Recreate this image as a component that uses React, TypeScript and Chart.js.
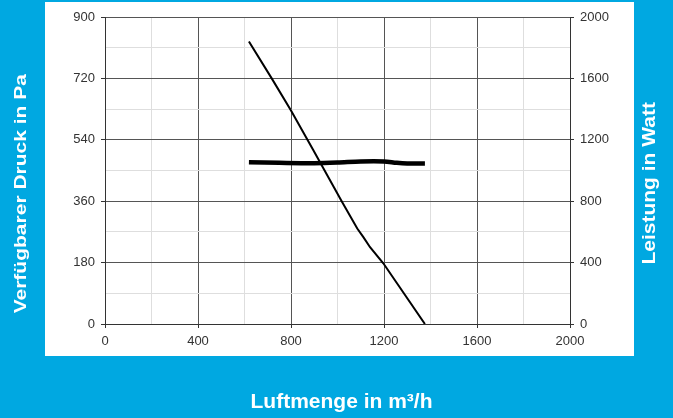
import { useEffect, useRef } from 'react';
import { Chart, registerables } from 'chart.js';

Chart.register(...registerables);

// Pressure curve (left axis, Pa) vs. air flow (m³/h)
const flowPressure = [619, 717, 800, 895, 1018, 1085, 1112, 1140, 1197, 1376];
const pressurePa = [828, 720, 626, 511, 360, 280, 254, 225, 178, 0];

// Power curve (right axis, W) vs. air flow (m³/h)
const flowPower = [619, 750, 900, 1000, 1100, 1200, 1255, 1300, 1376];
const powerW = [1053, 1050, 1048, 1052, 1059, 1059, 1050, 1046, 1046];

// Axis ranges / tick steps
const xRange = [0, 2000];
const xLabelStep = 400;
const leftRange = [0, 900];
const leftLabelStep = 180;
const rightRange = [0, 2000];
const rightLabelStep = 400;

const xTitle = 'Luftmenge in m³/h';
const leftTitle = 'Verfügbarer Druck in Pa';
const rightTitle = 'Leistung in Watt';

const BLUE = '#00a8e1';
const TICK_FONT = { family: '"Liberation Sans", Arial, sans-serif', size: 13 };
const TITLE_FONT = 'bold 21px "Liberation Sans", Arial, sans-serif';

const isMajor = (v: number, step: number) => Math.abs(v % step) < 1e-6;

const framePlugin = {
  id: 'frame',
  beforeDraw(chart: any) {
    const { ctx, width, height } = chart;
    ctx.save();
    ctx.fillStyle = BLUE;
    ctx.fillRect(0, 0, width, height);
    ctx.fillStyle = '#ffffff';
    ctx.fillRect(45, 2, 589, 354);
    ctx.restore();
  },
  afterDraw(chart: any) {
    const { ctx } = chart;
    ctx.save();
    ctx.fillStyle = '#ffffff';
    ctx.font = TITLE_FONT;
    ctx.textAlign = 'center';
    ctx.textBaseline = 'middle';
    // bottom title
    ctx.save();
    ctx.translate(341.5, 402);
    ctx.scale(1.0, 0.96);
    ctx.fillText(xTitle, 0, 0);
    ctx.restore();
    // left title
    ctx.save();
    ctx.translate(21, 193.7);
    ctx.rotate(-Math.PI / 2);
    ctx.scale(1.0, 0.82);
    ctx.fillText(leftTitle, 0, 0);
    ctx.restore();
    // right title
    ctx.save();
    ctx.translate(649.5, 183.3);
    ctx.rotate(-Math.PI / 2);
    ctx.scale(1.0, 0.88);
    ctx.fillText(rightTitle, 0, 0);
    ctx.restore();
    ctx.restore();
  },
};

export default function App() {
  const ref = useRef<HTMLCanvasElement>(null);

  useEffect(() => {
    const canvas = ref.current;
    if (!canvas) return;
    const chart = new Chart(canvas, {
      type: 'line',
      data: {
        datasets: [
          {
            label: 'Druck',
            data: flowPressure.map((x, i) => ({ x, y: pressurePa[i] })),
            yAxisID: 'y',
            borderColor: '#000000',
            borderWidth: 2,
            pointRadius: 0,
            tension: 0,
            fill: false,
          },
          {
            label: 'Leistung',
            data: flowPower.map((x, i) => ({ x, y: powerW[i] })),
            yAxisID: 'y2',
            borderColor: '#000000',
            borderWidth: 4.5,
            pointRadius: 0,
            tension: 0.3,
            fill: false,
          },
        ],
      },
      options: {
        animation: false,
        responsive: false,
        devicePixelRatio: 1,
        layout: { padding: { top: 17, left: 0, right: 0, bottom: 0 } },
        plugins: { legend: { display: false }, tooltip: { enabled: false } },
        scales: {
          x: {
            type: 'linear',
            min: xRange[0],
            max: xRange[1],
            afterFit: (s: any) => { s.height = 94; },
            border: { color: '#333333', width: 1 },
            grid: {
              color: (c: any) => (isMajor(c.tick?.value ?? 0, xLabelStep) ? '#555555' : '#dedede'),
              tickColor: (c: any) => (isMajor(c.tick?.value ?? 0, xLabelStep) ? '#333333' : 'rgba(0,0,0,0)'),
              tickLength: 4,
              lineWidth: 1,
            },
            ticks: {
              stepSize: xLabelStep / 2,
              autoSkip: false,
              maxRotation: 0,
              padding: 6,
              color: '#333333',
              font: TICK_FONT,
              callback: (v: any) => (isMajor(Number(v), xLabelStep) ? String(v) : ''),
            },
          },
          y: {
            type: 'linear',
            position: 'left',
            min: leftRange[0],
            max: leftRange[1],
            afterFit: (s: any) => { s.width = 105; },
            border: { color: '#333333', width: 1 },
            grid: {
              color: (c: any) => (isMajor(c.tick?.value ?? 0, leftLabelStep) ? '#555555' : '#dedede'),
              tickColor: (c: any) => (isMajor(c.tick?.value ?? 0, leftLabelStep) ? '#333333' : 'rgba(0,0,0,0)'),
              tickLength: 4,
              lineWidth: 1,
            },
            ticks: {
              stepSize: leftLabelStep / 2,
              autoSkip: false,
              padding: 6,
              color: '#333333',
              font: TICK_FONT,
              callback: (v: any) => (isMajor(Number(v), leftLabelStep) ? String(v) : ''),
            },
          },
          y2: {
            type: 'linear',
            position: 'right',
            min: rightRange[0],
            max: rightRange[1],
            afterFit: (s: any) => { s.width = 103; },
            border: { color: '#333333', width: 1 },
            grid: {
              drawOnChartArea: false,
              tickColor: (c: any) => (isMajor(c.tick?.value ?? 0, rightLabelStep) ? '#333333' : 'rgba(0,0,0,0)'),
              tickLength: 4,
            },
            ticks: {
              stepSize: rightLabelStep / 2,
              autoSkip: false,
              padding: 6,
              color: '#333333',
              font: TICK_FONT,
              callback: (v: any) => (isMajor(Number(v), rightLabelStep) ? String(v) : ''),
            },
          },
        },
      },
      plugins: [framePlugin],
    });
    return () => chart.destroy();
  }, []);

  return (
    <div style={{ position: 'fixed', left: 0, top: 0, width: 673, height: 418 }}>
      <canvas ref={ref} width={673} height={418} style={{ display: 'block' }} />
    </div>
  );
}
